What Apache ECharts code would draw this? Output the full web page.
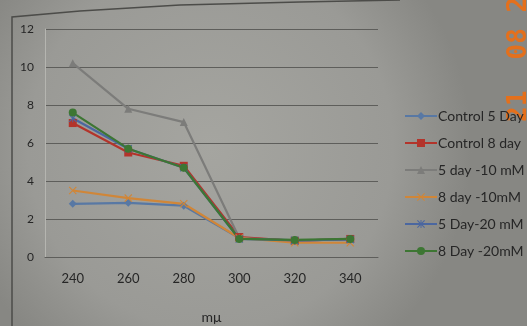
<!DOCTYPE html>
<html>
<head>
<meta charset="utf-8">
<script src="https://cdn.jsdelivr.net/npm/echarts@6/dist/echarts.min.js"></script>
<style>
  html, body { margin: 0; padding: 0; background: #9b9b97; }
  #chart { width: 527px; height: 326px; }
</style>
</head>
<body>
<div id="chart"></div>
<script>
// Wavelength categories (mμ)
const wavelengths = ['240', '260', '280', '300', '320', '340'];
const yTicks = { min: 0, max: 12, step: 2 };

// Absorbance readings per treatment
const control5Day = [2.8, 2.85, 2.7, 1.0, 0.88, 0.92];
const control8Day = [7.05, 5.5, 4.8, 1.05, 0.85, 0.95];
const day5_10mM  = [10.2, 7.8, 7.1, 1.0, 0.85, 0.95];
const day8_10mM  = [3.5, 3.1, 2.8, 1.0, 0.75, 0.75];
const day5_20mM  = [7.3, 5.7, 4.7, 0.95, 0.88, 0.92];
const day8_20mM  = [7.6, 5.7, 4.7, 0.95, 0.9, 0.95];

const seriesNames = ['Control 5 Day', 'Control 8 day', '5 day -10 mM', '8 day -10mM', '5 Day-20 mM', '8 Day -20mM'];

// marker shapes
const crossPath = 'path://M1,0L5,4L9,0L10,1L6,5L10,9L9,10L5,6L1,10L0,9L4,5L0,1Z';
const starPath = 'path://M1,0L5,4L9,0L10,1L6,5L10,9L9,10L5,6L1,10L0,9L4,5L0,1Z M4.4,0L5.6,0L5.6,10L4.4,10Z';

const styles = [
  { color: '#5878a4', symbol: 'diamond', size: 8 },
  { color: '#b3342b', symbol: 'rect', size: 8 },
  { color: '#7c7c7a', symbol: 'triangle', size: 8 },
  { color: '#d08638', symbol: crossPath, size: 8 },
  { color: '#4b67a0', symbol: starPath, size: 8 },
  { color: '#3d7633', symbol: 'circle', size: 8 }
];
const dataSets = [control5Day, control8Day, day5_10mM, day8_10mM, day5_20mM, day8_20mM];

const font = 'Lato, "Open Sans", sans-serif';
const textColor = '#262626';

const chart = echarts.init(document.getElementById('chart'), null, { renderer: 'canvas' });

chart.setOption({
  animation: false,
  backgroundColor: {
    type: 'radial', x: 0.4, y: 0.45, r: 0.8,
    colorStops: [
      { offset: 0, color: '#a5a5a0' },
      { offset: 0.7, color: '#9a9a96' },
      { offset: 1, color: '#878783' }
    ]
  },
  textStyle: { fontFamily: font },
  grid: { left: 45, right: 149, top: 29, bottom: 69, outerBoundsMode: 'none', containLabel: false },
  legend: {
    orient: 'vertical',
    left: 399,
    top: 104,
    itemWidth: 32,
    itemHeight: 10,
    itemGap: 13,
    data: seriesNames,
    textStyle: { fontSize: 14, color: textColor, fontFamily: font, padding: [0, 0, 0, -4] }
  },
  xAxis: {
    type: 'category',
    data: wavelengths,
    boundaryGap: true,
    name: 'mμ',
    nameLocation: 'middle',
    nameGap: 53,
    nameTextStyle: { fontSize: 14, color: textColor, fontFamily: font },
    axisLine: { lineStyle: { color: '#5e5e5b', width: 1 } },
    axisTick: { show: false },
    axisLabel: { fontSize: 13, color: textColor, margin: 15 }
  },
  yAxis: {
    type: 'value',
    min: yTicks.min,
    max: yTicks.max,
    interval: yTicks.step,
    axisLine: { show: true, lineStyle: { color: '#b5b5b0', width: 1 } },
    axisTick: { show: false },
    axisLabel: { fontSize: 12, color: textColor, margin: 11 },
    splitLine: { lineStyle: { color: '#5e5e5b', width: 1 } }
  },
  graphic: [
    {
      type: 'polyline',
      shape: { points: [[12, 326], [12, 17], [80, 11], [180, 5], [300, 2], [400, 0]] },
      style: { stroke: '#4c4c49', lineWidth: 1.5, fill: null }
    },
    {
      type: 'text',
      x: 519, y: 122,
      rotation: Math.PI / 2,
      style: {
        text: '21  08 2',
        fill: '#e4701c',
        font: 'bold 26px "DejaVu Sans Mono", monospace',
        verticalAlign: 'middle',
        align: 'left'
      }
    }
  ],
  series: dataSets.map((d, i) => ({
    name: seriesNames[i],
    type: 'line',
    data: d,
    symbol: styles[i].symbol,
    symbolSize: styles[i].size,
    showSymbol: true,
    lineStyle: { color: styles[i].color, width: 2.2 },
    itemStyle: { color: styles[i].color }
  }))
});
</script>
</body>
</html>
